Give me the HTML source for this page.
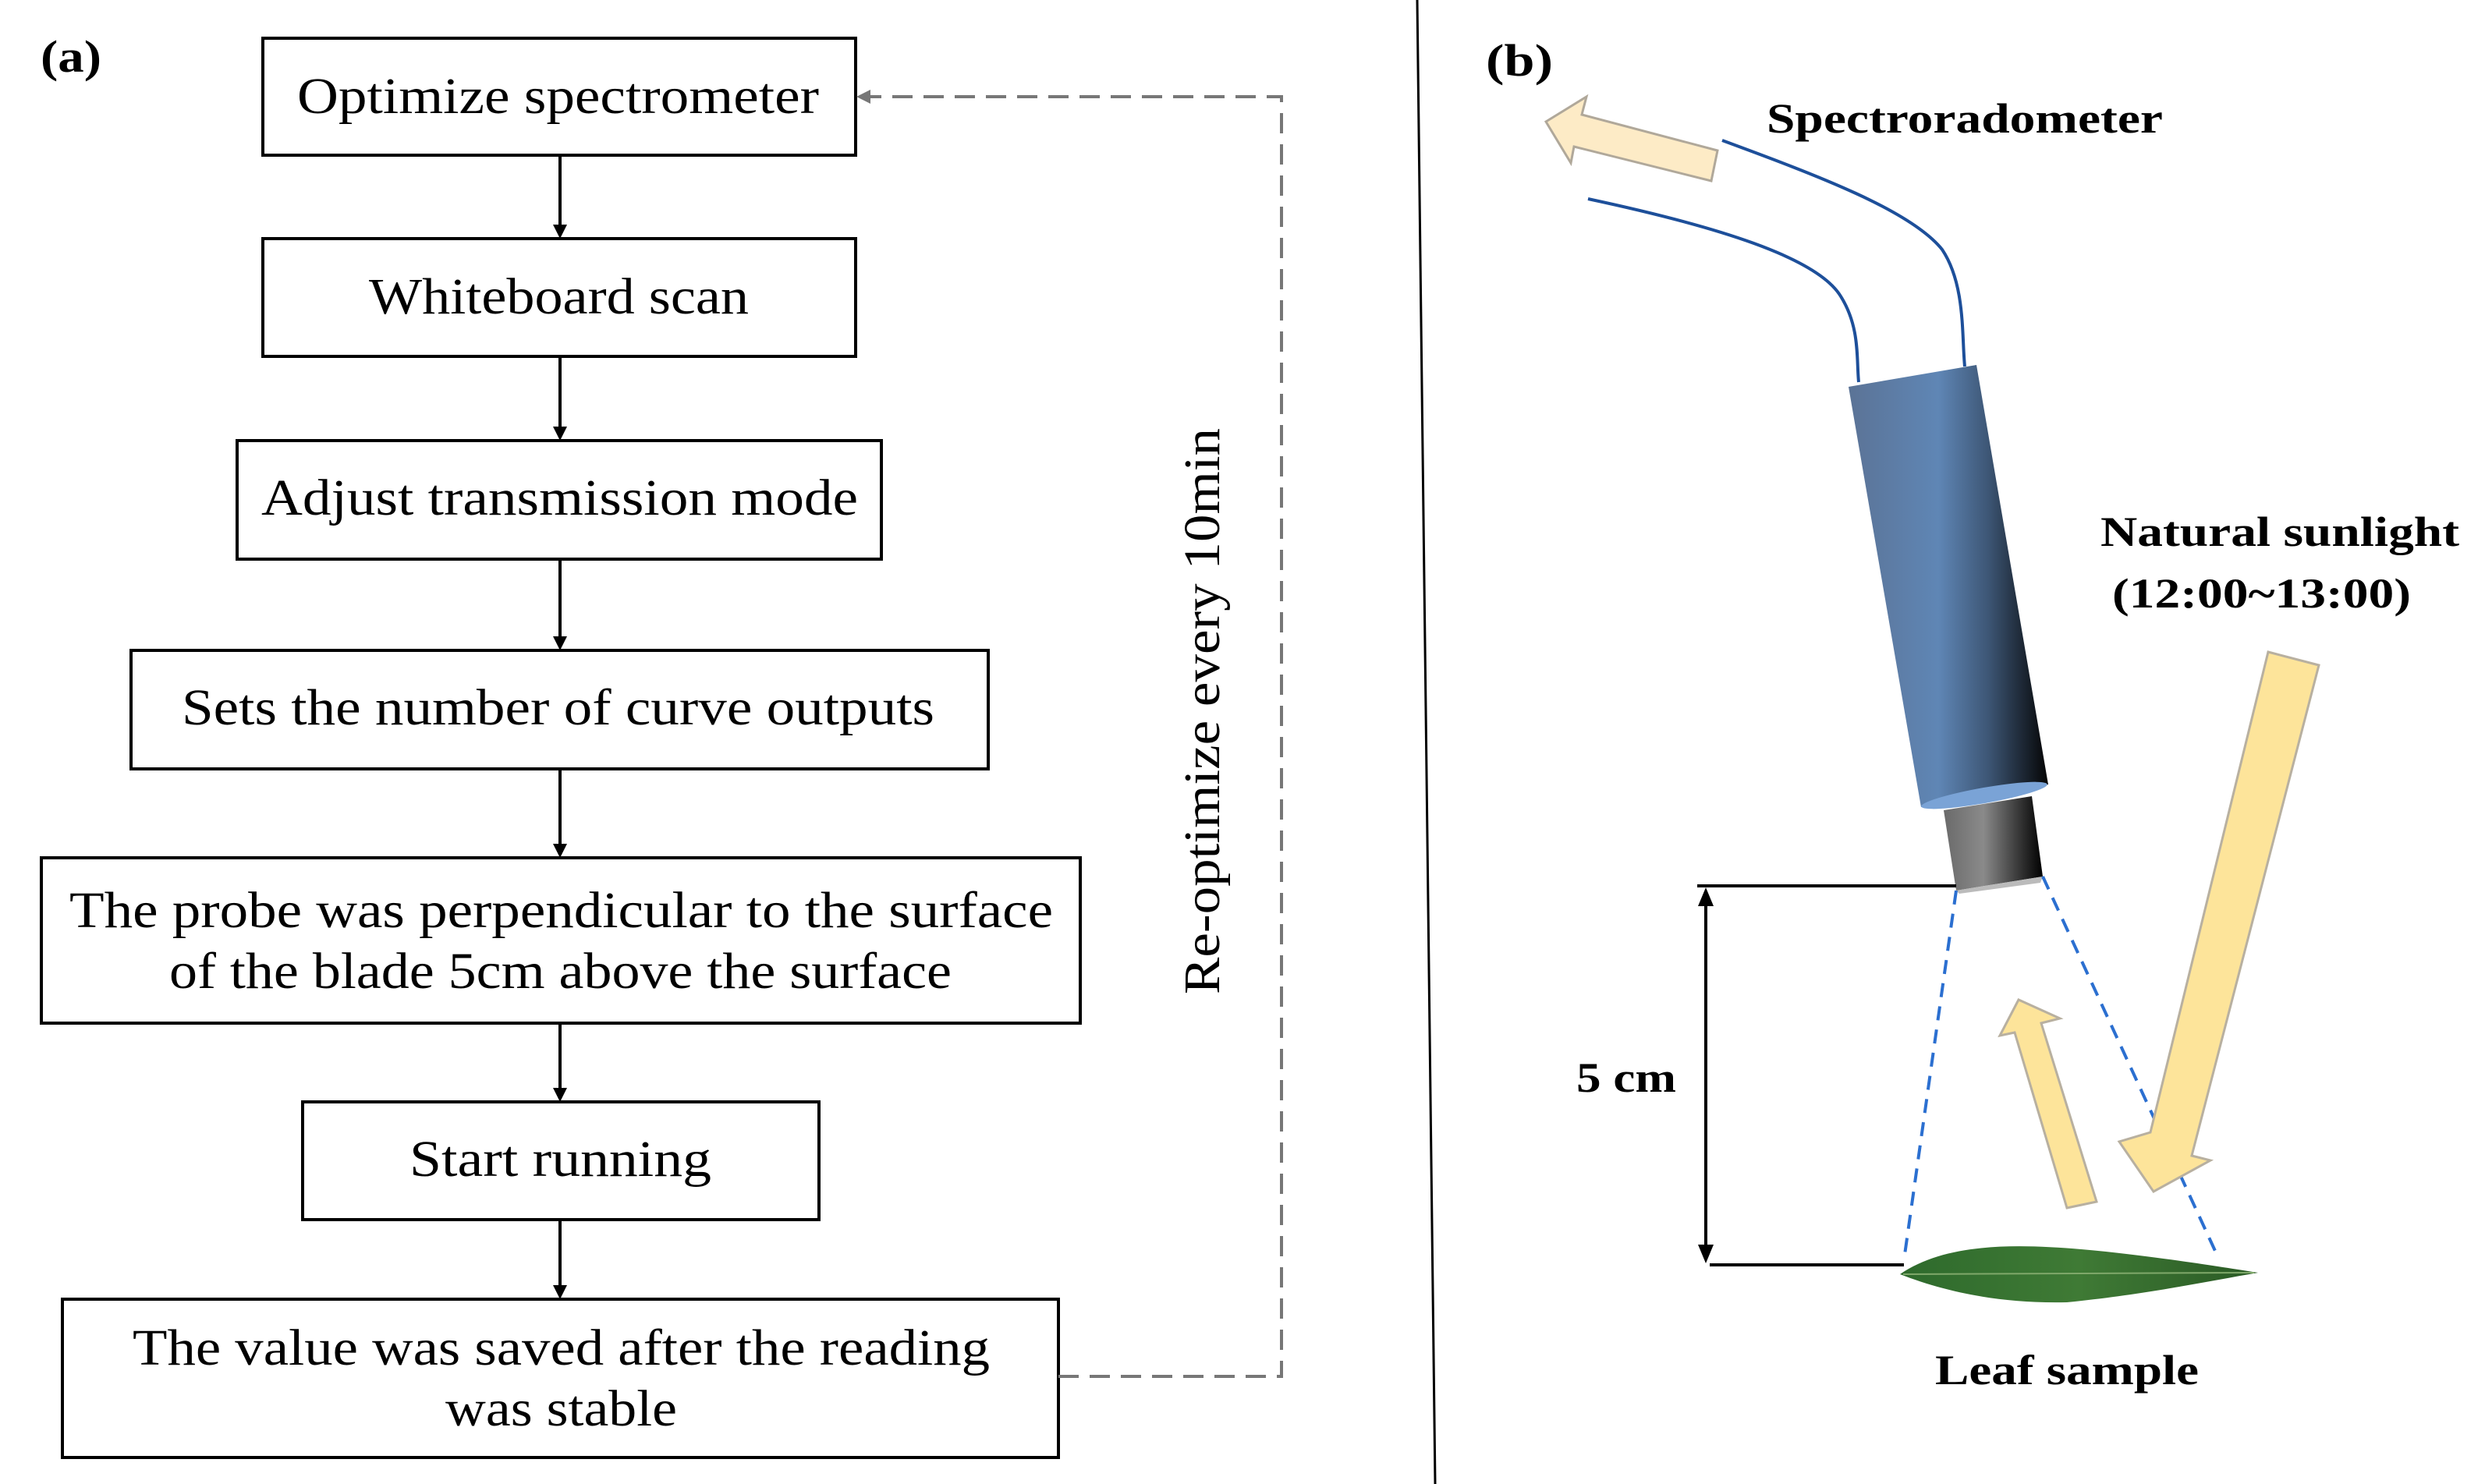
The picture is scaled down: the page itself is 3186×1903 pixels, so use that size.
<!DOCTYPE html>
<html><head><meta charset="utf-8"><style>
html,body{margin:0;padding:0;background:#fff;}
svg{display:block;}
</style></head><body>
<svg width="3186" height="1903" viewBox="0 0 3186 1903" xmlns="http://www.w3.org/2000/svg">
<defs>
<linearGradient id="cyl" x1="0" y1="0" x2="1" y2="0">
<stop offset="0" stop-color="#5b7396"/><stop offset="0.45" stop-color="#5f86b5"/><stop offset="0.7" stop-color="#3d5675"/><stop offset="1" stop-color="#050505"/></linearGradient>
<linearGradient id="cyl2" x1="0" y1="0" x2="1" y2="0">
<stop offset="0" stop-color="#6a6a6a"/><stop offset="0.4" stop-color="#8a8a8a"/><stop offset="1" stop-color="#000"/></linearGradient>
<linearGradient id="leaf" x1="0" y1="0" x2="1" y2="0">
<stop offset="0" stop-color="#2e6a2c"/><stop offset="0.5" stop-color="#3f7a35"/><stop offset="1" stop-color="#2a5a25"/></linearGradient>
</defs>
<rect width="3186" height="1903" fill="#fff"/>
<g font-family="'Liberation Serif',serif" fill="#000">
<text x="52" y="92" font-size="58" font-weight="bold" textLength="78" lengthAdjust="spacingAndGlyphs">(a)</text>
<g fill="none" stroke="#000" stroke-width="4">
<rect x="337" y="49" width="760" height="150"/>
<rect x="337" y="306" width="760" height="151"/>
<rect x="304" y="565" width="826" height="152"/>
<rect x="168" y="834" width="1099" height="152"/>
<rect x="53" y="1100" width="1332" height="212"/>
<rect x="388" y="1413" width="662" height="151"/>
<rect x="80" y="1666" width="1277" height="203"/>
</g>
<g font-size="66">
<text x="381" y="145" textLength="669" lengthAdjust="spacingAndGlyphs">Optimize spectrometer</text>
<text x="473" y="402" textLength="487" lengthAdjust="spacingAndGlyphs">Whiteboard scan</text>
<text x="335" y="660" textLength="765" lengthAdjust="spacingAndGlyphs">Adjust transmission mode</text>
<text x="233" y="929" textLength="965" lengthAdjust="spacingAndGlyphs">Sets the number of curve outputs</text>
<text x="89" y="1189" textLength="1261" lengthAdjust="spacingAndGlyphs">The probe was perpendicular to the surface</text>
<text x="217" y="1267" textLength="1003" lengthAdjust="spacingAndGlyphs">of the blade 5cm above the surface</text>
<text x="525" y="1508" textLength="387" lengthAdjust="spacingAndGlyphs">Start running</text>
<text x="170" y="1750" textLength="1099" lengthAdjust="spacingAndGlyphs">The value was saved after the reading</text>
<text x="571" y="1828" textLength="297" lengthAdjust="spacingAndGlyphs">was stable</text>
<text transform="translate(1563,912) rotate(-90)" x="-363" y="0" textLength="726" lengthAdjust="spacingAndGlyphs">Re-optimize every 10min</text>
</g>
<g stroke="#000" stroke-width="4">
<line x1="718" y1="200" x2="718" y2="292"/>
<line x1="718" y1="458" x2="718" y2="551"/>
<line x1="718" y1="718" x2="718" y2="820"/>
<line x1="718" y1="987" x2="718" y2="1086"/>
<line x1="718" y1="1313" x2="718" y2="1399"/>
<line x1="718" y1="1565" x2="718" y2="1652"/>
</g>
<g fill="#000">
<polygon points="709,288 727,288 718,306"/>
<polygon points="709,547 727,547 718,565"/>
<polygon points="709,816 727,816 718,834"/>
<polygon points="709,1082 727,1082 718,1100"/>
<polygon points="709,1395 727,1395 718,1413"/>
<polygon points="709,1648 727,1648 718,1666"/>
</g>
<polyline points="1357,1765 1643,1765 1643,124 1112,124" fill="none" stroke="#777" stroke-width="4" stroke-dasharray="26,14"/>
<polygon points="1098,124 1116,115 1116,133" fill="#777"/>
<line x1="1817" y1="0" x2="1840" y2="1903" stroke="#000" stroke-width="3"/>

<text x="1905" y="97" font-size="58" font-weight="bold" textLength="86" lengthAdjust="spacingAndGlyphs">(b)</text>
<g font-weight="bold" font-size="54">
<text x="2265" y="170" textLength="508" lengthAdjust="spacingAndGlyphs">Spectroradometer</text>
<text x="2693" y="700" textLength="460" lengthAdjust="spacingAndGlyphs">Natural sunlight</text>
<text x="2708" y="779" textLength="383" lengthAdjust="spacingAndGlyphs">(12:00~13:00)</text>
<text x="2021" y="1400" textLength="128" lengthAdjust="spacingAndGlyphs">5 cm</text>
<text x="2481" y="1775" textLength="338" lengthAdjust="spacingAndGlyphs">Leaf sample</text>
</g>
</g>
<!-- hollow arrow -->
<polygon points="1982,156 2034,124 2028,147 2202,193 2194,232 2018,188 2014,209" fill="#fdebc6" stroke="#b0a89a" stroke-width="3"/>
<!-- cables -->
<path d="M2036,255 C2200,290 2330,330 2360,380 C2385,420 2380,460 2383,490" fill="none" stroke="#1d4f9a" stroke-width="4"/>
<path d="M2208,180 C2330,225 2450,270 2490,320 C2520,365 2515,430 2519,470" fill="none" stroke="#1d4f9a" stroke-width="4"/>
<!-- cylinder -->
<polygon points="2370,496 2534,468 2626,1006 2463,1035" fill="url(#cyl)"/>
<ellipse cx="2544" cy="1020" rx="82" ry="10" transform="rotate(-10 2544 1020)" fill="#7aa3d6"/>
<polygon points="2492,1039 2605,1021 2619,1124 2508,1142" fill="url(#cyl2)"/>
<polygon points="2508,1142 2619,1124 2616,1132 2512,1146" fill="#bbb"/>
<!-- dimension -->
<g stroke="#000" stroke-width="4">
<line x1="2176" y1="1136" x2="2508" y2="1136"/>
<line x1="2192" y1="1622" x2="2441" y2="1622"/>
<line x1="2187" y1="1150" x2="2187" y2="1608"/>
</g>
<polygon points="2187,1138 2177,1162 2197,1162" fill="#000"/>
<polygon points="2187,1620 2177,1596 2197,1596" fill="#000"/>
<!-- dashed view lines -->
<line x1="2508" y1="1142" x2="2441" y2="1616" stroke="#2b6fd0" stroke-width="4" stroke-dasharray="18,12"/>
<line x1="2619" y1="1124" x2="2840" y2="1604" stroke="#2b6fd0" stroke-width="4" stroke-dasharray="18,12"/>
<!-- leaf -->
<path d="M2436,1634 C2500,1590 2600,1595 2700,1605 C2790,1615 2850,1625 2895,1632 C2820,1645 2750,1660 2650,1670 C2560,1672 2490,1655 2436,1634 Z" fill="url(#leaf)"/>
<line x1="2440" y1="1634" x2="2890" y2="1632" stroke="#7fa86a" stroke-width="2"/>
<!-- sunlight arrow -->
<polygon points="2908,836 2973,853 2810,1482 2834,1488 2761,1528 2717,1464 2757,1452" fill="#fde49a" stroke="#b8b0a0" stroke-width="3"/>
<!-- reflected arrow -->
<polygon points="2650,1549 2688,1541 2617,1312 2641,1306 2588,1282 2564,1328 2583,1324" fill="#fde49a" stroke="#b8b0a0" stroke-width="3"/>
</svg>
</body></html>
